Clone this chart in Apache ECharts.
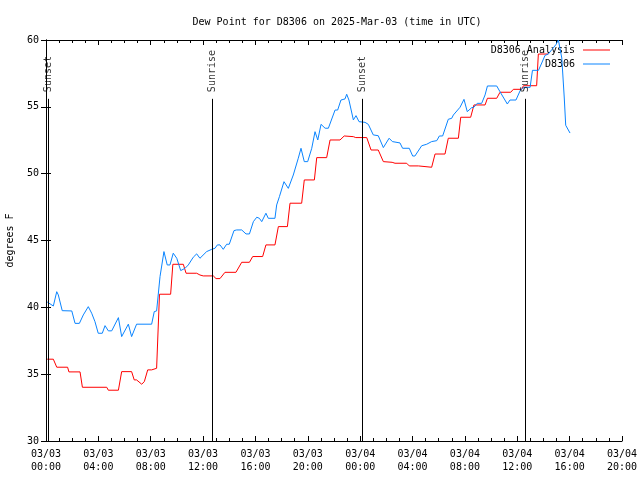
<!DOCTYPE html>
<html>
<head>
<meta charset="utf-8">
<script src="https://cdn.jsdelivr.net/npm/echarts@6/dist/echarts.min.js"></script>
<style>html,body{margin:0;padding:0;background:#fff}#c{width:640px;height:480px}</style>
</head>
<body>
<div id="c"></div>
<script>
// hours since 2025-03-03 00:00 UTC
const obsHours = [0.09,0.56,0.82,0.94,1.24,1.97,2.22,2.55,2.85,3.23,3.49,3.74,3.99,4.30,4.51,4.76,5.02,5.53,5.78,6.29,6.54,6.92,8.07,8.27,8.45,8.71,9.01,9.26,9.47,9.72,9.99,10.29,10.62,10.87,11.25,11.51,11.76,12.27,12.66,12.91,13.09,13.29,13.54,13.80,14.00,14.36,14.56,14.95,15.28,15.54,15.84,16.10,16.30,16.48,16.80,16.98,17.49,17.62,17.83,17.93,18.18,18.51,18.89,19.27,19.48,19.73,19.99,20.30,20.55,20.76,21.01,21.32,21.57,22.08,22.28,22.53,22.84,22.97,23.14,23.48,23.68,23.91,24.37,24.62,25.00,25.38,25.77,26.21,26.46,27.04,27.24,27.75,28.01,28.18,28.70,29.08,29.46,29.85,30.05,30.30,30.73,30.99,31.12,31.63,31.93,32.18,32.52,32.69,32.94,33.28,33.54,33.72,34.43,34.68,35.24,35.44,35.90,36.22,36.47,36.98,37.16,37.62,37.87,38.12,38.37,38.64,38.95,39.14,39.40,39.59,39.70,40.03];
const obsDew = [40.4,40.1,41.17,40.93,39.75,39.73,38.8,38.8,39.43,40.05,39.56,38.93,38.06,38.06,38.63,38.24,38.24,39.23,37.81,38.74,37.81,38.74,38.74,39.68,39.73,42.3,44.17,43.17,43.17,44.05,43.67,42.75,42.92,43.17,43.75,44.0,43.67,44.17,44.34,44.42,44.67,44.67,44.34,44.72,44.72,45.74,45.79,45.79,45.49,45.49,46.41,46.74,46.66,46.41,47.04,46.66,46.66,47.66,48.28,48.16,49.4,48.9,49.9,51.15,51.9,50.9,50.9,51.9,53.14,52.52,53.69,53.4,53.4,54.76,54.76,55.51,55.59,55.94,55.51,54.02,54.34,53.89,53.84,53.69,52.9,52.84,51.95,52.65,52.4,52.3,51.9,51.9,51.32,51.32,52.09,52.2,52.4,52.47,52.82,52.82,54.07,54.14,54.39,54.97,55.56,54.64,54.94,54.97,55.26,55.26,55.89,56.56,56.56,56.13,55.21,55.51,55.51,56.21,56.46,56.46,57.73,57.73,58.28,58.85,58.95,59.28,59.65,60.0,58.65,55.66,53.62,53.04];
const anaHours = [0.09,0.56,0.82,1.65,1.75,2.60,2.78,4.64,4.76,5.53,5.78,6.54,6.74,6.92,7.31,7.51,7.77,8.07,8.45,8.58,8.67,9.52,9.69,10.49,10.70,11.51,11.76,12.01,12.78,12.99,13.29,13.67,14.51,14.95,15.54,15.79,16.55,16.80,17.49,17.75,18.44,18.64,19.53,19.73,20.50,20.68,21.44,21.70,22.46,22.78,23.48,23.66,24.50,24.83,25.38,25.77,26.44,26.66,27.55,27.75,28.45,28.57,29.46,29.72,30.48,30.73,31.50,31.68,32.44,32.69,33.54,33.72,34.43,34.68,35.50,35.70,36.34,36.47,37.48,37.61,38.37];
const anaDew = [36.12,36.12,35.52,35.52,35.17,35.17,34.02,34.02,33.8,33.8,35.19,35.19,34.57,34.57,34.25,34.44,35.32,35.32,35.44,35.44,40.98,40.98,43.22,43.22,42.55,42.55,42.42,42.35,42.35,42.15,42.15,42.62,42.62,43.37,43.37,43.8,43.8,44.67,44.67,46.04,46.04,47.79,47.79,49.53,49.53,51.2,51.2,52.52,52.52,52.82,52.77,52.7,52.7,51.77,51.77,50.9,50.85,50.78,50.78,50.58,50.58,50.48,50.48,51.47,51.47,52.65,52.65,54.22,54.22,55.14,55.14,55.64,55.64,56.09,56.09,56.31,56.31,56.58,56.58,58.95,58.95];
const sunHours = [0.15, 12.70, 24.16, 36.59];
const sunLabels = ['Sunset', 'Sunrise', 'Sunset', 'Sunrise'];
const titleText = 'Dew Point for D8306 on 2025-Mar-03 (time in UTC)';
const yName = 'degrees F';
const seriesNames = ['D8306 Analysis', 'D8306'];
const seriesColors = ['#ff0000', '#0a84ff'];

const FONT = 'DejaVu Sans Mono';
const pad = n => (n < 10 ? '0' : '') + n;
function fmtHour(h) {
  const day = 3 + Math.floor(h / 24);
  const hh = Math.round(h % 24);
  return '03/' + pad(day) + '\n' + pad(hh) + ':00';
}
const zip = (a, b) => a.map((v, i) => [v, b[i]]);
const LINE_ICON = 'path://M0,0L27,0L27,1L0,1Z';

const xCommon = {
  type: 'value', min: 0, max: 44, interval: 4,
  axisLine: { show: true, lineStyle: { color: '#000', width: 1 } },
  axisTick: { show: true, inside: true, length: 5, lineStyle: { color: '#000' } },
  minorTick: { show: true, splitNumber: 4, length: 3, lineStyle: { color: '#000' } },
  splitLine: { show: false }
};
const yCommon = {
  type: 'value', min: 30, max: 60, interval: 5,
  axisLine: { show: true, lineStyle: { color: '#000', width: 1 } },
  axisTick: { show: true, inside: true, length: 5, lineStyle: { color: '#000' } },
  splitLine: { show: false }
};

const chart = echarts.init(document.getElementById('c'), null, { renderer: 'canvas' });
chart.setOption({
  animation: false,
  backgroundColor: '#fff',
  textStyle: { fontFamily: FONT },
  title: {
    text: titleText, left: 332, textAlign: 'center', top: 12,
    textStyle: { fontFamily: FONT, fontSize: 10, fontWeight: 'normal', color: '#000' }
  },
  legend: {
    orient: 'vertical', right: 30, top: 45, align: 'right', padding: 0,
    itemWidth: 27, itemHeight: 10, itemGap: 4, symbolKeepAspect: true,
    data: seriesNames.map(n => ({ name: n, icon: LINE_ICON })),
    textStyle: { fontFamily: FONT, fontSize: 10, color: '#000', padding: [0, 3, 0, 0] }
  },
  grid: { left: 46, right: 18, top: 40, bottom: 39, containLabel: false, outerBoundsMode: 'none' },
  xAxis: [
    Object.assign({}, xCommon, {
      position: 'bottom',
      axisLabel: { formatter: fmtHour, color: '#000', fontFamily: FONT, fontSize: 10, margin: 7, lineHeight: 13, hideOverlap: false }
    }),
    Object.assign({}, xCommon, { position: 'top', axisLabel: { show: false } })
  ],
  yAxis: [
    Object.assign({}, yCommon, {
      position: 'left',
      name: yName, nameLocation: 'middle', nameRotate: 90, nameGap: 31,
      nameTextStyle: { fontFamily: FONT, fontSize: 10, color: '#000' },
      axisLabel: { color: '#000', fontFamily: FONT, fontSize: 10, margin: 7 }
    }),
    Object.assign({}, yCommon, { position: 'right', axisLabel: { show: false } })
  ],
  series: [
    {
      name: seriesNames[0], type: 'line', data: zip(anaHours, anaDew),
      symbol: 'none', showSymbol: false, color: seriesColors[0],
      lineStyle: { color: seriesColors[0], width: 1 }, z: 3, clip: true
    },
    {
      name: seriesNames[1], type: 'line', data: zip(obsHours, obsDew),
      symbol: 'none', showSymbol: false, color: seriesColors[1],
      lineStyle: { color: seriesColors[1], width: 1 }, z: 4, clip: true
    },
    {
      name: 'sun', type: 'scatter', symbolSize: 0, silent: true, z: 5,
      data: sunHours.map((t, i) => [t, 56.1, sunLabels[i]]),
      label: {
        show: true, position: 'top', distance: 0, rotate: 90,
        align: 'left', verticalAlign: 'middle',
        formatter: p => p.value[2],
        fontFamily: FONT, fontSize: 10, color: '#000'
      },
      markLine: {
        silent: true, symbol: 'none', animation: false,
        label: { show: false },
        lineStyle: { color: '#000', width: 1, type: 'solid' },
        data: sunHours.map(t => [{ coord: [t, 30] }, { coord: [t, 55.6] }])
      }
    }
  ]
});
</script>
</body>
</html>
